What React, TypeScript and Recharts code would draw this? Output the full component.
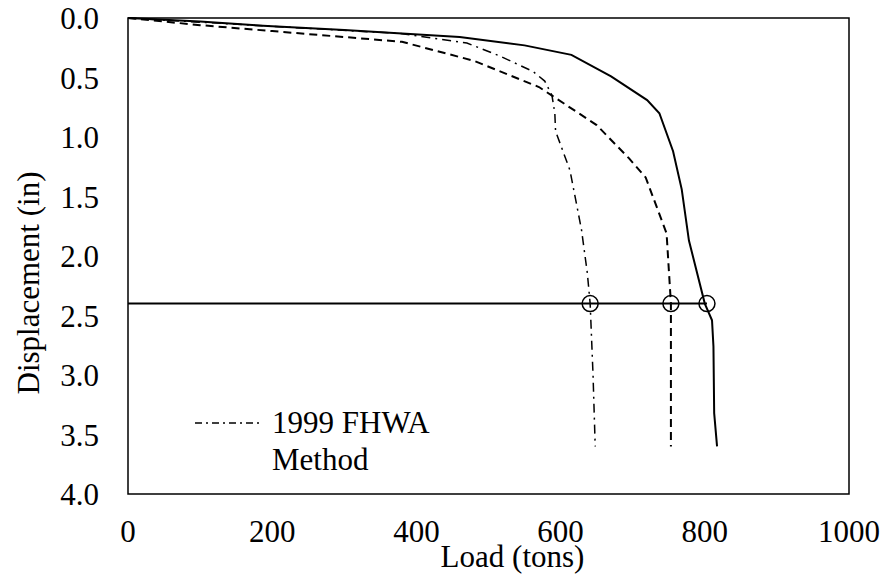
import { ComposedChart, Line, Scatter, XAxis, YAxis, ReferenceArea } from 'recharts';

// load (tons) vs displacement (in)
const solidLoad = [0, 100, 200, 300, 460, 550, 615, 670, 720, 737, 756, 768, 778, 800, 810, 812, 813, 817];
const solidDisp = [0, 0.03, 0.07, 0.10, 0.16, 0.23, 0.31, 0.49, 0.69, 0.80, 1.12, 1.44, 1.87, 2.40, 2.54, 2.76, 3.32, 3.60];

const dashLoad = [0, 100, 200, 300, 380, 480, 570, 650, 695, 718, 747, 753, 753];
const dashDisp = [0, 0.06, 0.11, 0.16, 0.20, 0.36, 0.58, 0.90, 1.18, 1.34, 1.81, 2.40, 3.60];

// 1999 FHWA method
const fhwaLoad = [0, 200, 377, 470, 516, 562, 578, 588, 592, 593, 613, 629, 637, 641, 645, 648];
const fhwaDisp = [0, 0.07, 0.13, 0.21, 0.32, 0.45, 0.53, 0.65, 0.80, 0.95, 1.28, 1.78, 2.14, 2.40, 3.00, 3.60];

// failure criterion line and its intersections
const limitDisp = 2.4;
const limitLoad = [0, 803];
const hitLoad = [641, 753, 803];

const xTicks = [0, 200, 400, 600, 800, 1000];
const yTicks = [0, 0.5, 1, 1.5, 2, 2.5, 3, 3.5, 4];

const FONT = '"Liberation Serif", "Times New Roman", "DejaVu Serif", serif';
const FS = 31;

const toPts = (xs: number[], ys: number[]) => xs.map((x, i) => ({ load: x, disp: ys[i] }));
const solid = toPts(solidLoad, solidDisp);
const dashed = toPts(dashLoad, dashDisp);
const fhwa = toPts(fhwaLoad, fhwaDisp);
const limit = limitLoad.map(x => ({ load: x, disp: limitDisp }));
const hits = hitLoad.map(x => ({ load: x, disp: limitDisp }));

const YLabel = (props: any) => {
  const { viewBox } = props;
  const cx = viewBox.x + 28;
  const cy = viewBox.y + viewBox.height / 2 + 27;
  return (
    <text x={cx} y={cy} transform={`rotate(-90 ${cx} ${cy})`} textAnchor="middle"
      dominantBaseline="central" fill="#000" fontSize={FS} style={{ fontFamily: FONT }}>
      Displacement (in)
    </text>
  );
};

const XLabel = (props: any) => {
  const { viewBox } = props;
  const cx = viewBox.x + viewBox.width / 2 + 24;
  return (
    <text x={cx} y={567} textAnchor="middle" fill="#000" fontSize={FS} style={{ fontFamily: FONT }}>
      Load (tons)
    </text>
  );
};

const ring = (p: any) => (
  <circle cx={p.cx} cy={p.cy} r={8} fill="none" stroke="#000" strokeWidth={1.5} />
);

export default function App() {
  const tick = { fill: '#000', fontSize: FS, style: { fontFamily: FONT } };
  return (
    <div style={{ position: 'absolute', left: 0, top: 0, width: 886, height: 586, background: '#fff' }}>
      <ComposedChart width={886} height={586} margin={{ top: 18, right: 37, bottom: 0, left: 0 }}>
        <XAxis
          dataKey="load" type="number" domain={[0, 1000]} ticks={xTicks}
          height={92} tickLine={false} axisLine={false} tickMargin={20}
          tick={tick} allowDuplicatedCategory={false}
          label={<XLabel />}
        />
        <YAxis
          dataKey="disp" type="number" domain={[0, 4]} ticks={yTicks} reversed
          width={128} tickLine={false} axisLine={false} tickMargin={23}
          tick={tick} tickFormatter={(v: number) => v.toFixed(1)}
          label={<YLabel />}
        />
        <ReferenceArea x1={0} x2={1000} y1={0} y2={4} fill="none" stroke="#000" strokeWidth={1.5} fillOpacity={0} />

        <Line data={solid} dataKey="disp" type="linear" stroke="#000" strokeWidth={2}
          dot={false} isAnimationActive={false} />
        <Line data={dashed} dataKey="disp" type="linear" stroke="#000" strokeWidth={2}
          strokeDasharray="8 5" dot={false} isAnimationActive={false} />
        <Line data={fhwa} dataKey="disp" type="linear" stroke="#000" strokeWidth={1.5}
          strokeDasharray="9 5 2 5" dot={false} isAnimationActive={false} />
        <Line data={limit} dataKey="disp" type="linear" stroke="#000" strokeWidth={2}
          dot={false} isAnimationActive={false} />
        <Scatter data={hits} dataKey="disp" shape={ring} isAnimationActive={false} />
      </ComposedChart>

      {/* legend for the FHWA curve, sits inside the plot frame */}
      <svg width={280} height={90} style={{ position: 'absolute', left: 190, top: 400 }}>
        <line x1={5} y1={23} x2={73} y2={23} stroke="#000" strokeWidth={1.5} strokeDasharray="7 4 2 4" />
        <text x={82} y={33} fill="#000" fontSize={FS} style={{ fontFamily: FONT }}>1999 FHWA</text>
        <text x={82} y={70} fill="#000" fontSize={FS} style={{ fontFamily: FONT }}>Method</text>
      </svg>
    </div>
  );
}
